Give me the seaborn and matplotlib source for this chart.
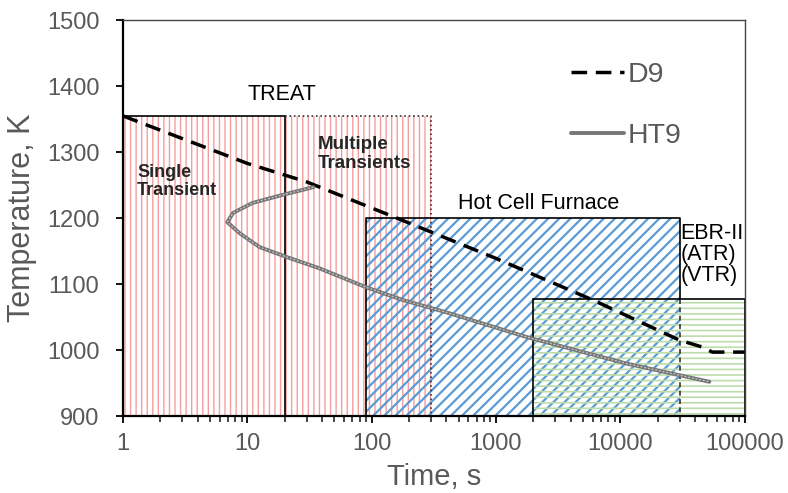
import pandas as pd
import matplotlib.pyplot as plt
import matplotlib.patches as mpatches
import seaborn as sns

# curvas de temperatura
d9_time = [1, 10, 30, 160, 1000, 6000, 30000, 45000, 55000, 100000]
d9_temp = [1355, 1283, 1255, 1200, 1139, 1076, 1015, 1005, 997, 997]

ht9_time = [34, 19, 11, 7.7, 6.9, 8.7, 12.6, 20.8, 38, 91, 178, 420, 1750, 11000, 52000]
ht9_temp = [1247, 1235, 1223, 1208, 1194, 1177, 1156, 1141, 1124, 1095, 1076, 1056, 1020, 980, 952]

# regioes de teste
t_base = 900
treat_time = [1, 20, 300]      # inicio, divisao single/multiple, fim
treat_top = 1355
hotcell_time = [90, 30000]
hotcell_top = 1200
ebr_time = [2000, 100000]
ebr_top = 1077

x_ticks = [1, 10, 100, 1000, 10000, 100000]
x_labels = ['1', '10', '100', '1000', '10000', '100000']
y_ticks = [900, 1000, 1100, 1200, 1300, 1400, 1500]

sns.set_style('white')
plt.rcParams['font.family'] = ['Liberation Sans', 'DejaVu Sans']
plt.rcParams['hatch.linewidth'] = 1.6

gray = '#595959'
fig = plt.figure(figsize=(7.88, 4.93), dpi=100)
ax = fig.add_axes([0.156, 0.156, 0.789, 0.803])
ax.set_xscale('log')


def hatch_box(x0, x1, top, color, hatch, hlw, z):
    p = mpatches.Rectangle((x0, t_base), x1 - x0, top - t_base, facecolor='none',
                           edgecolor=color, linewidth=0, hatch=hatch, zorder=z)
    if hasattr(p, 'set_hatch_linewidth'):
        p.set_hatch_linewidth(hlw)
    ax.add_patch(p)


# areas hachuradas
hatch_box(treat_time[0], treat_time[2], treat_top, '#f59c9c', '|||', 1.0, 1)
hatch_box(hotcell_time[0], hotcell_time[1], hotcell_top, '#5b9bd5', '///', 1.6, 1.1)
hatch_box(ebr_time[0], ebr_time[1], ebr_top, '#bcdcaa', '---', 1.2, 1.2)

# contornos
ax.add_patch(mpatches.Rectangle((treat_time[0], t_base), treat_time[1] - treat_time[0], treat_top - t_base,
                                fill=False, edgecolor='black', linewidth=1.2, zorder=2))
ax.plot([treat_time[1], treat_time[2], treat_time[2]], [treat_top, treat_top, t_base],
        color='#333333', linestyle=':', linewidth=1.2, zorder=2)
ax.plot([hotcell_time[0], hotcell_time[0], hotcell_time[1], hotcell_time[1]],
        [t_base, hotcell_top, hotcell_top, ebr_top], color='black', linewidth=1.2, zorder=2)
ax.plot([hotcell_time[1], hotcell_time[1]], [ebr_top, t_base], color='#333333',
        linestyle=(0, (3, 2)), linewidth=1.2, zorder=2)
ax.add_patch(mpatches.Rectangle((ebr_time[0], t_base), ebr_time[1] - ebr_time[0], ebr_top - t_base,
                                fill=False, edgecolor='black', linewidth=1.2, zorder=2))

d9 = pd.DataFrame({'time': d9_time, 'temp': d9_temp})
ht9 = pd.DataFrame({'time': ht9_time, 'temp': ht9_temp})
sns.lineplot(data=d9, x='time', y='temp', ax=ax, color='black', linewidth=2.5,
             linestyle=(0, (4.5, 2.5)), label='D9', zorder=3)
sns.lineplot(data=ht9, x='time', y='temp', ax=ax, color='#767676', linewidth=2.8,
             sort=False, estimator=None, label='HT9', zorder=3)
# nucleo claro da linha HT9
ax.plot(ht9_time, ht9_temp, color='#c8c8c8', linewidth=0.9, linestyle=(0, (1.5, 1.5)), zorder=3.1)

ax.set_xlim(1, 100000)
ax.set_ylim(900, 1500)
ax.set_xticks(x_ticks)
ax.set_xticklabels(x_labels)
ax.set_yticks(y_ticks)
ax.tick_params(axis='both', which='major', direction='out', length=5, width=1.3,
               colors='black', labelcolor=gray, labelsize=17, bottom=True, left=True)
ax.tick_params(axis='x', which='minor', direction='out', length=4, width=1.2, bottom=True)
ax.tick_params(axis='x', pad=7)
ax.tick_params(axis='y', pad=12)

for s in ['left', 'bottom']:
    ax.spines[s].set_color('black')
    ax.spines[s].set_linewidth(1.6)
for s in ['top', 'right']:
    ax.spines[s].set_color('#444444')
    ax.spines[s].set_linewidth(1.0)

ax.set_xlabel('Time, s', fontsize=21, color=gray, labelpad=6)
ax.set_ylabel('Temperature, K', fontsize=22, color=gray, labelpad=7)

# textos
ax.text(19, 1372, 'TREAT', fontsize=15.5, ha='center', va='bottom', color='black')
ax.text(1.3, 1282, 'Single\nTransient', fontsize=13, fontweight='bold', ha='left', va='top',
        color='#262626', linespacing=1.1)
ax.text(37, 1324, 'Multiple\nTransients', fontsize=13.5, fontweight='bold', ha='left', va='top',
        color='#262626', linespacing=1.1)
ax.text(2200, 1207, 'Hot Cell Furnace', fontsize=15.5, ha='center', va='bottom', color='black')
ax.text(30500, 1192, 'EBR-II\n(ATR)\n(VTR)', fontsize=15.5, ha='left', va='top', color='black',
        linespacing=1.0)

ax.legend(frameon=False, loc='upper left', bbox_to_anchor=(0.72, 0.895), borderaxespad=0,
          borderpad=0, handlelength=1.86, handletextpad=0.14, labelspacing=1.23,
          prop={'size': 20.5}, labelcolor=gray)

fig.savefig('out.png', dpi=100)
